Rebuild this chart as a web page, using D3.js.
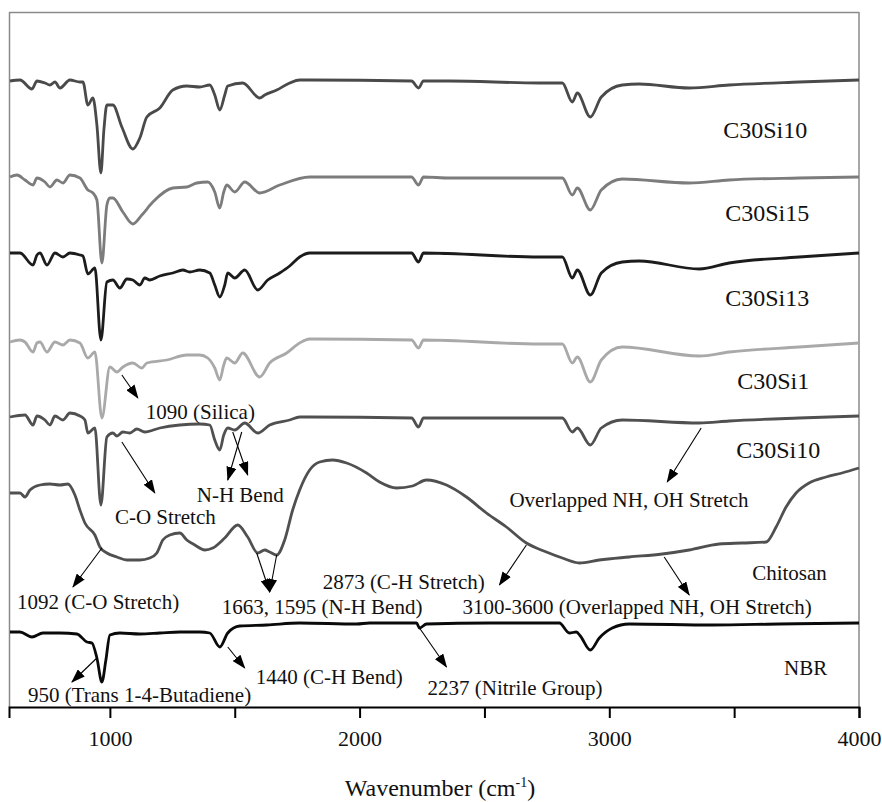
<!DOCTYPE html>
<html>
<head>
<meta charset="utf-8">
<script src="https://cdn.jsdelivr.net/npm/d3@7"></script>
<style>
  html, body { margin: 0; padding: 0; background: #fff; }
  svg { display: block; }
  text { font-family: "Liberation Serif", "DejaVu Serif", serif; fill: #111; }
</style>
</head>
<body>
<svg id="chart" width="882" height="802"></svg>
<script>
// ---------- DATA (wavenumber cm-1, transmittance a.u. incl. stacking offset) ----------
const xTicks = [1000, 1500, 2000, 2500, 3000, 3500, 4000];
const xTickLabels = ["1000", "", "2000", "", "3000", "", "4000"];

const c30si10Top = [[600,619],[640,620],[688,611],[708,619],[740,617],[760,615],[780,618],[800,612],[840,620],[880,618],[892,618],[912,595],[932,602],[948,575],[964,527],[976,570],[988,595],[1012,595],[1048,573],[1092,551],[1120,562],[1148,583],[1200,592],[1252,610],[1308,614],[1360,613],[1400,615],[1420,605],[1440,590],[1460,605],[1472,614],[1532,617],[1600,602],[1620,605],[1668,610],[1720,617],[1760,620],[1800,620],[2208,619],[2236,612],[2256,619],[2360,619],[2720,617],[2812,617],[2852,598],[2872,607],[2924,583],[2968,603],[3052,615],[3120,616],[3320,612],[3480,615],[3760,618],[4000,620]];

const c30si15 = [[600,523],[628,525],[660,520],[692,515],[708,522],[740,518],[760,513],[788,520],[812,517],[840,525],[880,522],[912,510],[932,507],[948,500],[968,437],[988,495],[1000,502],[1012,502],[1052,488],[1092,476],[1128,485],[1172,498],[1252,512],[1308,513],[1348,517],[1392,518],[1420,508],[1440,492],[1456,508],[1468,515],[1500,508],[1540,518],[1600,507],[1680,515],[1800,523],[2208,523],[2236,515],[2256,523],[2360,522],[2720,522],[2812,522],[2852,505],[2872,512],[2924,490],[2968,510],[3052,521],[3320,517],[3480,520],[3760,522],[4000,523]];

const c30si13 = [[600,447],[640,447],[692,435],[708,445],[720,447],[748,435],[780,447],[812,443],[840,447],[880,445],[892,444],[912,426],[940,432],[964,360],[988,418],[1012,420],[1040,412],[1068,421],[1092,420],[1120,415],[1140,422],[1160,420],[1200,424],[1252,427],[1292,430],[1320,428],[1360,430],[1400,427],[1420,415],[1440,403],[1460,415],[1472,427],[1500,422],[1540,430],[1592,410],[1632,420],[1680,427],[1720,434],[1760,443],[1800,447],[2208,447],[2236,438],[2256,447],[2720,443],[2812,443],[2852,422],[2872,430],[2924,405],[2968,427],[3052,438],[3120,439],[3360,431],[3480,437],[3760,443],[4000,447]];

const c30si1 = [[600,358],[640,360],[660,358],[692,348],[708,357],[720,358],[748,348],[780,358],[812,355],[840,360],[880,357],[912,342],[940,348],[968,282],[1000,333],[1028,328],[1052,333],[1092,337],[1128,332],[1148,337],[1228,340],[1308,345],[1360,345],[1392,342],[1420,332],[1440,320],[1456,335],[1468,342],[1500,337],[1532,347],[1600,323],[1640,337],[1708,347],[1760,357],[1800,361],[2208,360],[2236,352],[2256,360],[2720,356],[2812,356],[2852,337],[2872,343],[2924,318],[2968,340],[3052,353],[3360,344],[3480,348],[3760,353],[4000,357]];

const c30si10Low = [[600,283],[660,285],[692,275],[708,284],[740,280],[760,275],[780,284],[812,280],[840,287],[880,284],[900,280],[912,267],[940,272],[964,195],[988,263],[1012,267],[1028,264],[1052,268],[1080,267],[1108,271],[1140,268],[1200,272],[1280,275],[1360,276],[1400,275],[1420,260],[1440,250],[1456,265],[1472,272],[1500,270],[1540,277],[1592,267],[1640,275],[1720,280],[1760,283],[1800,283],[2208,282],[2236,273],[2256,282],[2720,282],[2812,282],[2852,268],[2872,272],[2924,255],[2968,272],[3052,280],[3360,277],[3480,279],[3760,282],[4000,284]];

const chitosan = [[600,207],[640,207],[660,203],[680,210],[720,215],[760,216],[800,215],[832,216],[860,205],[880,190],[900,177],[940,165],[960,153],[988,147],[1028,143],[1068,140],[1120,140],[1160,142],[1188,147],[1212,160],[1240,165],[1280,167],[1308,160],[1340,155],[1380,150],[1412,152],[1460,162],[1512,175],[1552,163],[1592,147],[1620,150],[1640,148],[1668,145],[1700,160],[1732,190],[1760,210],[1800,230],[1840,238],[1892,240],[1948,237],[2028,227],[2080,218],[2148,212],[2212,214],[2268,220],[2348,215],[2428,203],[2508,187],[2588,173],[2668,157],[2748,148],[2812,142],[2880,137],[2960,140],[3080,143],[3212,146],[3320,150],[3440,156],[3532,157],[3628,158],[3668,173],[3708,193],[3748,207],[3800,217],[3868,223],[3932,227],[4000,232]];

const nbr = [[600,68],[640,68],[688,63],[732,67],[800,67],[868,66],[908,58],[928,57],[948,42],[968,18],[984,40],[1000,65],[1040,67],[1120,66],[1200,67],[1280,68],[1360,68],[1400,67],[1440,53],[1472,67],[1520,74],[1628,75],[1760,77],[1988,76],[2040,77],[2228,77],[2240,72],[2268,76],[2520,77],[2800,77],[2840,67],[2868,68],[2884,64],[2924,50],[2960,62],[3012,72],[3080,76],[3412,75],[3680,76],[4000,77]];

const seriesData = [c30si10Top, c30si15, c30si13, c30si1, c30si10Low, chitosan, nbr];
const seriesNames = ["C30Si10", "C30Si15", "C30Si13", "C30Si1", "C30Si10", "Chitosan", "NBR"];

// labels: [text, wavenumber, level]
const seriesLabels = [
  ["C30Si10", 3456, 570], ["C30Si15", 3464, 487], ["C30Si13", 3464, 402],
  ["C30Si1", 3512, 319], ["C30Si10", 3508, 250]
];
const smallLabels = [
  ["Chitosan", 3572, 127], ["NBR", 3700, 32],
  ["1090 (Silica)", 1144, 288], ["N-H Bend", 1348, 205], ["C-O Stretch", 1020, 183],
  ["1092 (C-O Stretch)", 628, 98], ["1663, 1595 (N-H Bend)", 1448, 93],
  ["2873 (C-H Stretch)", 1852, 118], ["3100-3600 (Overlapped NH, OH Stretch)", 2412, 93],
  ["Overlapped NH, OH Stretch", 2600, 200], ["950 (Trans 1-4-Butadiene)", 672, 5],
  ["1440 (C-H Bend)", 1584, 23], ["2237 (Nitrile Group)", 2272, 12]
];
// arrows: [fromWn, fromLevel, toWn, toLevel]
const arrows = [
  [948,42,848,18], [1472,53,1540,32], [2240,72,2348,33], [968,152,852,113],
  [1048,258,1180,207], [1492,268,1552,225], [1528,268,1472,220], [1048,325,1112,302],
  [1588,147,1640,108], [1668,145,1640,108], [2668,155,2560,115], [3220,143,3320,105],
  [3368,272,3232,218]
];

// ---------- STYLE ----------
const colors = ["#4a4a4a", "#7c7c7c", "#1c1c1c", "#a9a9a9", "#505050", "#505050", "#0a0a0a"];
const margin = {top: 12, left: 9, right: 23, bottom: 95};
const W = 882, H = 802;
const iw = W - margin.left - margin.right, ih = H - margin.top - margin.bottom;

const svg = d3.select("#chart");
const g = svg.append("g").attr("transform", `translate(${margin.left},${margin.top})`);

const x = d3.scaleLinear().domain([596, 4000]).range([0, iw]);
const y = d3.scaleLinear().domain([-7, 688]).range([ih, 0]);

// arrow marker
svg.append("defs").append("marker")
  .attr("id", "ah").attr("markerUnits", "userSpaceOnUse")
  .attr("viewBox", "0 0 14 10").attr("refX", 13).attr("refY", 5)
  .attr("markerWidth", 14).attr("markerHeight", 10).attr("orient", "auto")
  .append("path").attr("d", "M0,0 L14,5 L0,10 Z").attr("fill", "#000");

// frame
g.append("line").attr("x1", 0).attr("x2", iw).attr("y1", 0.5).attr("y2", 0.5)
  .attr("stroke", "#8a8a8a").attr("stroke-width", 1.5);
g.append("line").attr("x1", 0.5).attr("x2", 0.5).attr("y1", 0).attr("y2", ih)
  .attr("stroke", "#8a8a8a").attr("stroke-width", 1.5);
g.append("line").attr("x1", iw).attr("x2", iw).attr("y1", 0).attr("y2", ih)
  .attr("stroke", "#8a8a8a").attr("stroke-width", 1.5);

// spectra
const line = d3.line().x(d => x(d[0])).y(d => y(d[1])).curve(d3.curveMonotoneX);
g.selectAll("path.spec").data(seriesData).join("path")
  .attr("class", "spec").attr("d", line).attr("fill", "none")
  .attr("stroke", (d, i) => colors[i]).attr("stroke-width", 2.8)
  .attr("stroke-linejoin", "round");

// x axis
const axis = d3.axisBottom(x).tickValues(xTicks)
  .tickFormat((d, i) => xTickLabels[i]).tickSize(11).tickPadding(12);
const ax = g.append("g").attr("transform", `translate(0,${ih})`).call(axis);
ax.select(".domain").attr("stroke", "#000").attr("stroke-width", 2);
ax.selectAll(".tick line").attr("stroke", "#000").attr("stroke-width", 2);
ax.selectAll(".tick text").style("font-family", '"Liberation Serif", serif')
  .style("font-size", "22px").attr("fill", "#111");

// axis title
const t = svg.append("text").attr("x", 440).attr("y", 796).attr("text-anchor", "middle")
  .style("font-size", "24px");
t.append("tspan").text("Wavenumber (cm");
t.append("tspan").text("-1").style("font-size", "14px").attr("dy", "-9");
t.append("tspan").text(")").attr("dy", "9");

// arrows
g.selectAll("line.arr").data(arrows).join("line").attr("class", "arr")
  .attr("x1", d => x(d[0])).attr("y1", d => y(d[1]))
  .attr("x2", d => x(d[2])).attr("y2", d => y(d[3]))
  .attr("stroke", "#000").attr("stroke-width", 1.1).attr("marker-end", "url(#ah)");

// labels
g.selectAll("text.sl").data(seriesLabels).join("text").attr("class", "sl")
  .attr("x", d => x(d[1])).attr("y", d => y(d[2])).attr("dy", "0.35em")
  .style("font-size", "24px").text(d => d[0]);
g.selectAll("text.al").data(smallLabels).join("text").attr("class", "al")
  .attr("x", d => x(d[1])).attr("y", d => y(d[2])).attr("dy", "0.35em")
  .style("font-size", "21px").text(d => d[0]);
</script>
</body>
</html>
